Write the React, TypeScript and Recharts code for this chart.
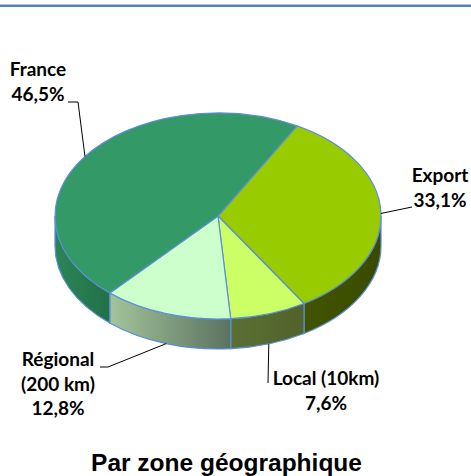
import { PieChart, Pie, Cell } from "recharts";

const zones = ["Export", "Local (10km)", "Régional (200 km)", "France"];
const shares = [33.1, 7.6, 12.8, 46.5];
const labelLines = [["Export"], ["Local (10km)"], ["Régional", "(200 km)"], ["France"]];

const topColors = ["#99cc00", "#ccff66", "#ccffcc", "#339966"];
const sideColors = [
  ["#415400", "#3a4b00"],
  ["#5b6f33", "#51632b"],
  ["#a3c49b", "#5b7260"],
  ["#2b8557", "#227148"],
];

const data = zones.map((name, i) => ({ name, value: shares[i] }));

// flattened "3D" look
const RATIO = 0.632;
const DEPTH = 30;
const EDGE = "#5b8ed8";
const RAD = Math.PI / 180;

// leader line bends + text centre, relative to pie centre
const placements = [
  { bends: [[194, -9]], tx: 222, ty: -34 },
  { bends: [[50, 167]], tx: 108, ty: 169 },
  { bends: [[-110, 151], [-118, 151]], tx: -160, ty: 150 },
  { bends: [[-140, -114], [-150, -114]], tx: -180, ty: -140 },
];

const pt = (cx: number, cy: number, rx: number, a: number, dy = 0) =>
  [cx + rx * Math.cos(a * RAD), cy - rx * RATIO * Math.sin(a * RAD) + dy];

function Slice3D(props: any) {
  const { cx, cy, outerRadius: rx, startAngle, endAngle, fill } = props;
  const name = props.name ?? props.payload?.name;
  const i = zones.indexOf(name);
  const ry = rx * RATIO;
  const hi = Math.max(startAngle, endAngle);
  const lo = Math.min(startAngle, endAngle);
  const [x1, y1] = pt(cx, cy, rx, hi);
  const [x2, y2] = pt(cx, cy, rx, lo);
  const large = hi - lo > 180 ? 1 : 0;
  const top = `M${cx},${cy} L${x1},${y1} A${rx},${ry} 0 ${large} 1 ${x2},${y2} Z`;

  const sides: string[] = [];
  for (const k of [-2, -1, 0, 1]) {
    const a1 = Math.min(hi, 360 * k);
    const a2 = Math.max(lo, -180 + 360 * k);
    if (a1 - a2 > 0.01) {
      const [sx1, sy1] = pt(cx, cy, rx, a1);
      const [sx2, sy2] = pt(cx, cy, rx, a2);
      sides.push(
        `M${sx1},${sy1} A${rx},${ry} 0 0 1 ${sx2},${sy2} L${sx2},${sy2 + DEPTH} A${rx},${ry} 0 0 0 ${sx1},${sy1 + DEPTH} Z`
      );
    }
  }
  const gid = `side-${i}`;
  return (
    <g>
      <defs>
        <linearGradient id={gid} x1="0" y1="0" x2="1" y2="0">
          <stop offset="0%" stopColor={sideColors[i][0]} />
          <stop offset="100%" stopColor={sideColors[i][1]} />
        </linearGradient>
      </defs>
      {sides.map((d, j) => (
        <path key={j} d={d} fill={`url(#${gid})`} stroke={EDGE} strokeWidth={1.2} />
      ))}
      <path d={top} fill={fill} stroke={EDGE} strokeWidth={1.2} strokeLinejoin="round" />
    </g>
  );
}

function ZoneLabel(props: any) {
  const { cx, cy, outerRadius, midAngle, index, value } = props;
  const p = placements[index];
  const down = Math.sin(midAngle * RAD) < 0 ? DEPTH : 0;
  const [ax, ay] = pt(cx, cy, outerRadius, midAngle, down);
  const pts = [[ax, ay], ...p.bends.map(([dx, dy]) => [cx + dx, cy + dy])];
  const lines = [...labelLines[index], `${value.toFixed(1).replace(".", ",")}%`];
  return (
    <g>
      <polyline points={pts.map((q) => q.join(",")).join(" ")} fill="none" stroke="#000" strokeWidth={1} />
      <text
        x={cx + p.tx}
        y={cy + p.ty}
        textAnchor="middle"
        fontFamily="Lato, sans-serif"
        fontWeight={700}
        fontSize={19}
        fill="#000"
      >
        {lines.map((t, j) => (
          <tspan key={j} x={cx + p.tx} dy={j === 0 ? 0 : 24.5}>
            {t}
          </tspan>
        ))}
      </text>
    </g>
  );
}

export default function App() {
  return (
    <div style={{ position: "absolute", left: 0, top: 0, width: 471, height: 476, background: "#fff", overflow: "hidden" }}>
      <div style={{ position: "absolute", left: 0, top: 4, width: 471, height: 1, background: "#a9c1e2" }} />
      <div style={{ position: "absolute", left: 0, top: 5, width: 471, height: 2, background: "#4f81bd" }} />
      <PieChart width={471} height={476} margin={{ top: 0, right: 0, bottom: 0, left: 0 }}>
        <Pie
          data={data}
          dataKey="value"
          nameKey="name"
          cx={218}
          cy={216}
          outerRadius={163}
          startAngle={61}
          endAngle={-299}
          shape={Slice3D}
          label={ZoneLabel}
          labelLine={false}
          isAnimationActive={false}
        >
          {data.map((d, i) => (
            <Cell key={d.name} fill={topColors[i]} />
          ))}
        </Pie>
      </PieChart>
      <div
        style={{
          position: "absolute",
          left: 0,
          width: 453,
          top: 451,
          textAlign: "center",
          fontFamily: "'Liberation Sans', Arial, sans-serif",
          fontWeight: 700,
          fontSize: 24.5,
          lineHeight: "24.5px",
          color: "#000",
          whiteSpace: "nowrap",
        }}
      >
        Par zone géographique
      </div>
    </div>
  );
}
